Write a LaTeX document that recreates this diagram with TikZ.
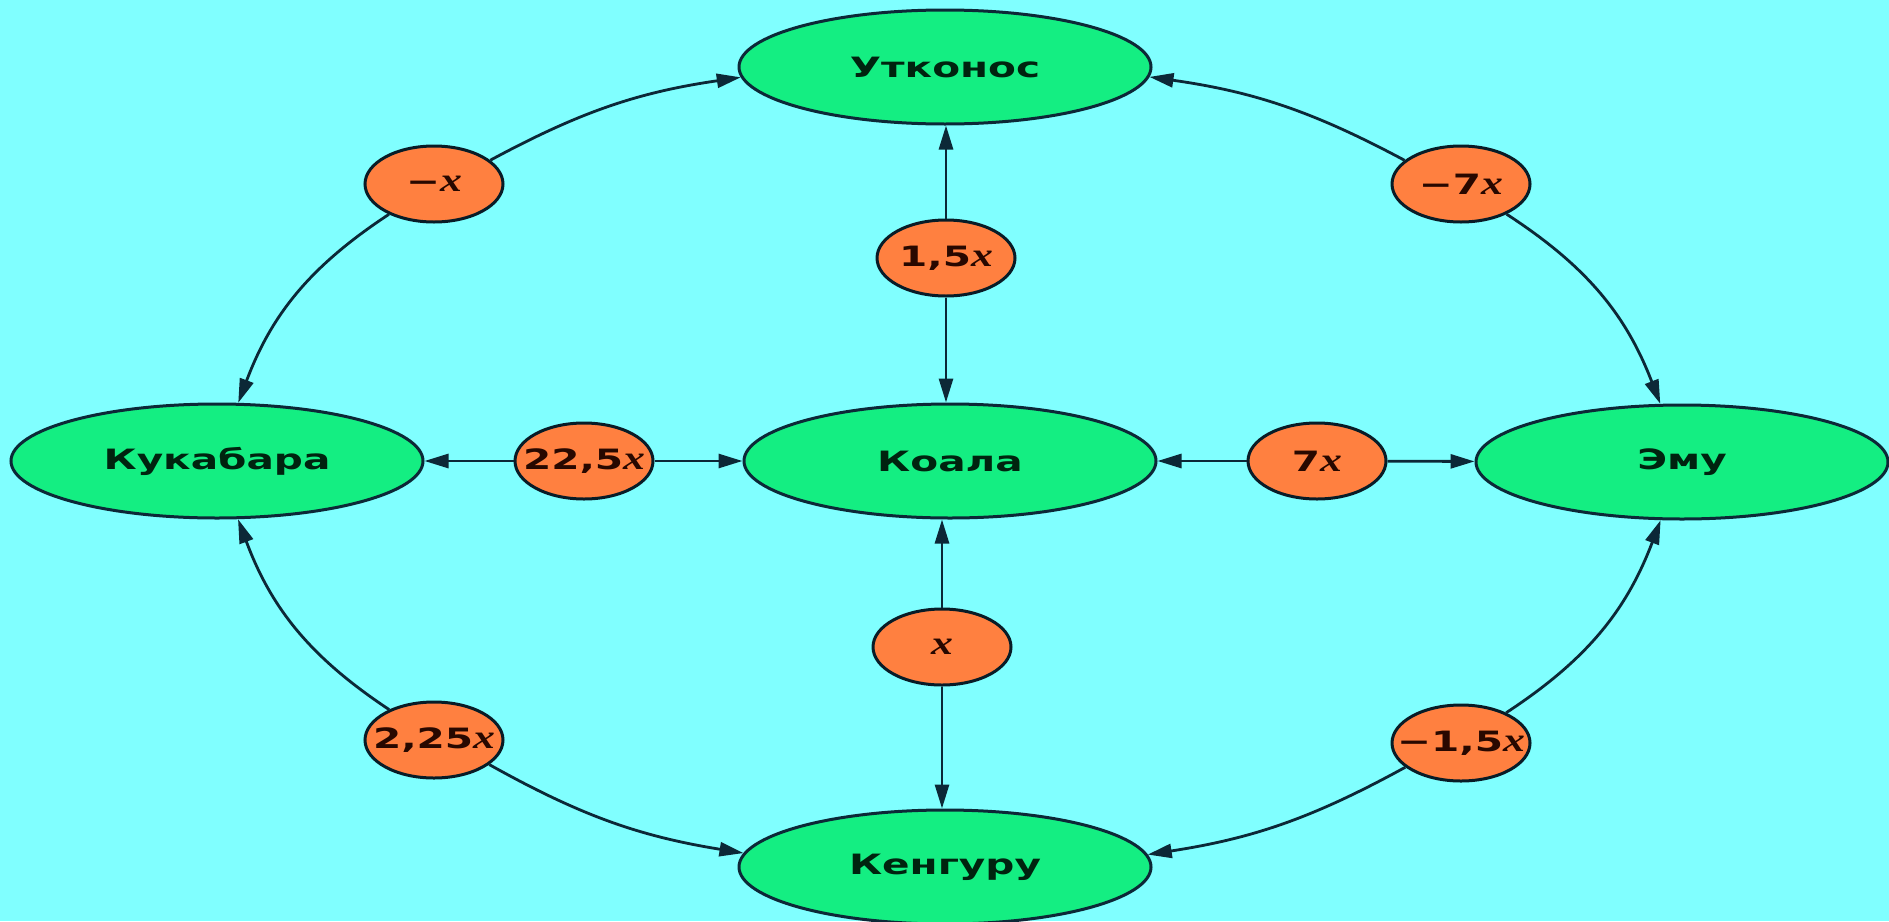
\documentclass[tikz,border=0pt]{standalone}
\usepackage{fontspec}
\setmainfont{DejaVu Sans}[FakeStretch=1.45]
\newfontfamily\xfont{Liberation Serif}[FakeStretch=1.3,Scale=1.2]
\usetikzlibrary{shapes.geometric,arrows.meta}
\definecolor{bgc}{RGB}{128,255,255}
\definecolor{gfill}{RGB}{20,238,130}
\definecolor{ofill}{RGB}{255,128,64}
\definecolor{edgec}{RGB}{12,40,55}
\definecolor{gtext}{RGB}{0,35,15}
\definecolor{otext}{RGB}{40,8,0}
\newcommand{\vx}{{\xfont\bfseries\itshape x}}
\newcommand{\olbl}[1]{\makebox[0pt]{#1}}
\begin{document}
\begin{tikzpicture}[x=1pt,y=1pt,
  gnode/.style={ellipse, draw=edgec, fill=gfill, line width=3pt, inner sep=0pt,
    minimum width=412, minimum height=114, text=gtext,
    font=\fontsize{28}{30}\selectfont\bfseries},
  onode/.style={ellipse, draw=edgec!70!black, fill=ofill, line width=3pt, inner sep=0pt,
    minimum width=138, minimum height=76, text=otext,
    font=\fontsize{28}{30}\selectfont\bfseries},
  conn/.style={line width=2.8pt, draw=edgec, -{Triangle[length=24pt,width=14pt]}}]
\fill[bgc] (0,0) rectangle (1889,-921);
\useasboundingbox (0,0) rectangle (1889,-921);

% green nodes
\node[gnode] (ut)  at (945,-67)  {Утконос};
\node[gnode] (kuk) at (217,-461) {Кукабара};
\node[gnode] (koa) at (950,-461) {Коала};
\node[gnode] (emu) at (1682,-462){Эму};
\node[gnode] (ken) at (945,-867) {Кенгуру};

% orange nodes
\node[onode] (mx)   at (434,-184)  {\olbl{−\vx}};
\node[onode] (m7x)  at (1461,-184) {\olbl{−7\vx}};
\node[onode] (a15)  at (946,-258)  {\olbl{1,5\vx}};
\node[onode] (a225) at (584,-461)  {\olbl{22,5\vx}};
\node[onode] (a7)   at (1317,-461) {\olbl{7\vx}};
\node[onode] (ax)   at (942,-647)  {\olbl{\vx}};
\node[onode] (b225) at (434,-740)  {\olbl{2,25\vx}};
\node[onode] (m15)  at (1461,-743) {\olbl{−1,5\vx}};

% straight connectors
\draw[conn] (a15) -- (a15 |- ut.south);
\draw[conn] (a15) -- (a15 |- koa.north);
\draw[conn] (a225) -- (kuk);
\draw[conn] (a225) -- (koa);
\draw[conn] (a7) -- (koa);
\draw[conn] (a7) -- (emu);
\draw[conn] (ax) -- (ax |- koa.south);
\draw[conn] (ax) -- (ax |- ken.north);

% curved connectors
\draw[conn] (mx) to[bend left=10] (ut);
\draw[conn] (mx) to[bend right=18] (kuk);
\draw[conn] (m7x) to[bend right=10] (ut);
\draw[conn] (m7x) to[bend left=18] (emu);
\draw[conn] (b225) to[bend left=18] (kuk);
\draw[conn] (b225) to[bend right=10] (ken);
\draw[conn] (m15) to[bend right=18] (emu);
\draw[conn] (m15) to[bend left=10] (ken);
\end{tikzpicture}
\end{document}
